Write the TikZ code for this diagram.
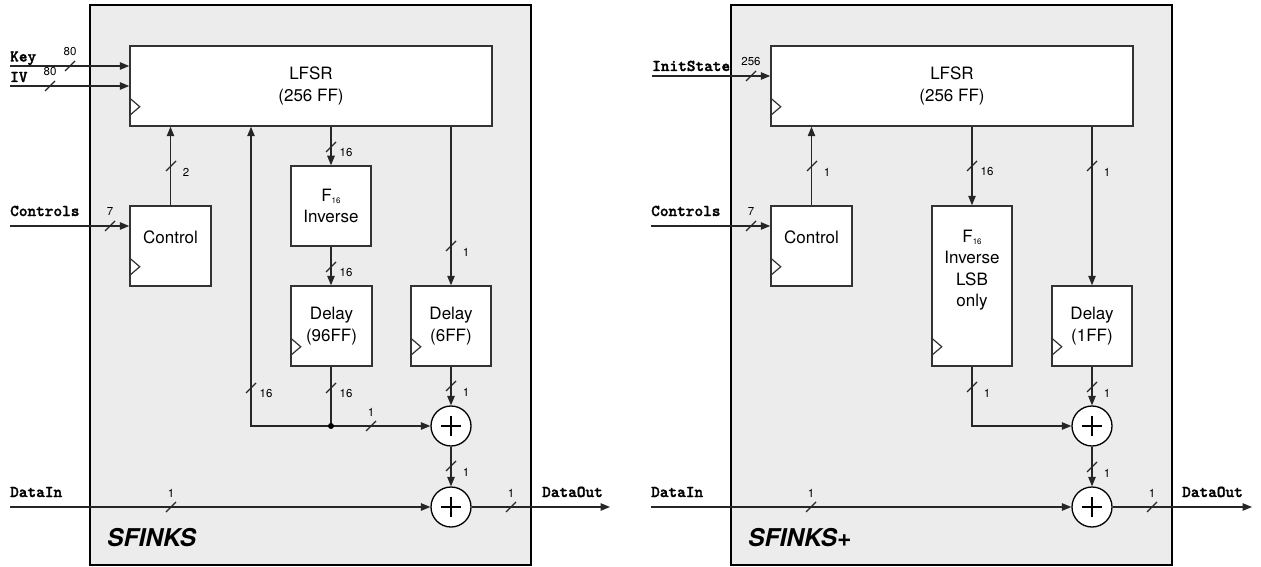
\documentclass[tikz,border=0pt]{standalone}
\usepackage{fontspec}
\setmainfont{TeX Gyre Heros}
\newfontfamily\sigfont{lmmonolt10-bold.otf}[FakeBold=1.6]
\usetikzlibrary{arrows.meta,calc}

\tikzset{
  conn/.style={line width=1.2pt, draw=black!85},
  arr/.style={conn, -{Triangle[length=9.5pt,width=7.5pt]}},
  reg/.style={draw=black!80, line width=1.5pt, fill=white, inner sep=0pt,
              font=\fontsize{17}{21.5}\selectfont, align=center},
  boxtxt/.style={font=\fontsize{17}{21.5}\selectfont, align=center, inner sep=0pt},
  sig/.style={font=\sigfont\fontsize{16.5}{16.5}\selectfont, anchor=base west, inner sep=0pt},
  num/.style={font=\fontsize{11.5}{11.5}\selectfont, inner sep=0pt},
  xor/.style={circle, draw=black, line width=1.3pt, fill=white, minimum size=40pt, inner sep=0pt,
    path picture={
      \draw[line width=1.1pt]
        ([xshift=-10pt]path picture bounding box.center) -- ([xshift=10pt]path picture bounding box.center)
        ([yshift=-10pt]path picture bounding box.center) -- ([yshift=10pt]path picture bounding box.center);}},
  panel/.style={draw=black, line width=2.2pt, fill={rgb,255:red,236;green,236;blue,236}},
  paneltitle/.style={font=\fontsize{24.5}{24.5}\selectfont\bfseries\itshape, anchor=base west, inner sep=0pt},
  clk/.pic={\draw[draw=black!80, line width=1.2pt] (0,-9) -- (10.5,0) -- (0,9);},
  busv/.pic={\draw[conn] (-5,5) -- (5,-5); \node[num] at (15,6) {#1};},
  bush/.pic={\draw[conn] (-5,5) -- (5,-5); \node[num] at (0,-14) {#1};}
}
\newcommand{\Fsixteen}{F\raisebox{-2.5pt}{\fontsize{8}{8}\selectfont 16}}

\begin{document}
\begin{tikzpicture}[x=1pt, y=-1pt]
\useasboundingbox (0,0) rectangle (1261,567);

% ---------------- SFINKS ----------------
\draw[panel] (90,5) rectangle (531,565);
\node[reg, minimum width=362pt, minimum height=80pt] (aLF) at (311,86) {LFSR\\(256 FF)};
\node[reg, minimum width=81pt, minimum height=80pt] (aCT) at (170.5,246) {};
\node[boxtxt] (aCTt) at (170.5,237) {Control};
\node[reg, minimum width=80pt, minimum height=80pt] (aF) at (331,206) {\Fsixteen\\Inverse};
\node[reg, minimum width=81pt, minimum height=80pt] (aD96) at (331.5,326) {Delay\\(96FF)};
\node[reg, minimum width=80pt, minimum height=80pt] (aD6) at (451,326) {Delay\\(6FF)};
\node[xor] (aX1) at (451,426) {};
\node[xor] (aX2) at (451,507) {};

\pic at ([yshift=20pt]aLF.south west) {clk};
\pic at ([yshift=20pt]aCT.south west) {clk};
\pic at ([yshift=20pt]aD96.south west) {clk};
\pic at ([yshift=20pt]aD6.south west) {clk};

\coordinate (aKey) at (10,66);
\coordinate (aIV) at (10,86);
\coordinate (aCin) at (10,226);
\coordinate (aDin) at (10,507);
\coordinate (aDout) at (610,507);

\draw[arr] (aKey) -- (aKey -| aLF.west);
\pic at (70,66) {bush=80};
\node[sig] at (10,61.5) {Key};
\draw[arr] (aIV) -- (aIV -| aLF.west);
\pic at (50,86) {bush=80};
\node[sig] at (10,82) {IV};

\draw[arr] (aCin) -- (aCin -| aCT.west);
\pic at (110,226) {bush=7};
\node[sig] at (10,216) {Controls};
\draw[arr] (aCT.north) -- (aCT.north |- aLF.south);
\pic at (171,166) {busv=2};

\draw[arr] (aF.north |- aLF.south) -- (aF.north);
\pic at (331,147) {busv=16};
\draw[arr] (aF.south) -- (aF.south |- aD96.north);
\pic at (331,267) {busv=16};
\draw[arr] (aD6.north |- aLF.south) -- (aD6.north);
\pic at (451,246) {busv=1};

\coordinate (aJ) at (aF.south |- aX1.west);
\coordinate (aFb) at (251,426);
\draw[conn] (aF.south |- aD96.south) -- (aJ);
\pic at (331,388) {busv=16};
\draw[arr] (aJ) -- (aFb) -- (aFb |- aLF.south);
\pic at (251,388) {busv=16};
\draw[arr] (aJ) -- (aX1.west);
\pic at (371,426) {bush=1};
\fill[black] (aJ) circle[radius=3pt];

\draw[arr] (aD6.south) -- (aX1.north);
\pic at (451,386) {busv=1};
\draw[arr] (aX1.south) -- (aX2.north);
\pic at (451,466) {busv=1};

\draw[arr] (aDin) -- (aX2.west);
\pic at (171,507) {bush=1};
\node[sig] at (10,497) {DataIn};
\draw[arr] (aX2.east) -- (aDout);
\pic at (511,507) {bush=1};
\node[sig] at (542,497) {DataOut};

\node[paneltitle] at (107,546) {SFINKS};

% ---------------- SFINKS+ ----------------
\begin{scope}[xshift=641pt]
\draw[panel] (90,5) rectangle (531,565);
\node[reg, minimum width=362pt, minimum height=80pt] (bLF) at (311,86) {LFSR\\(256 FF)};
\node[reg, minimum width=81pt, minimum height=80pt] (bCT) at (170.5,246) {};
\node[boxtxt] (bCTt) at (170.5,237) {Control};
\node[reg, minimum width=80pt, minimum height=160pt] (bF) at (331,286) {};
\node[boxtxt, anchor=north] (bFt) at (331,229.5) {\Fsixteen\\Inverse\\LSB\\only};
\node[reg, minimum width=80pt, minimum height=80pt] (bD1) at (451,326) {Delay\\(1FF)};
\node[xor] (bX1) at (451,426) {};
\node[xor] (bX2) at (451,507) {};

\pic at ([yshift=20pt]bLF.south west) {clk};
\pic at ([yshift=20pt]bCT.south west) {clk};
\pic at ([yshift=20pt]bF.south west) {clk};
\pic at ([yshift=20pt]bD1.south west) {clk};

\coordinate (bIn) at (11,76);
\coordinate (bCin) at (10,226);
\coordinate (bDin) at (10,507);
\coordinate (bDout) at (611,507);

\draw[arr] (bIn) -- (bIn -| bLF.west);
\pic at (110,76) {bush=256};
\node[sig] at (11,71) {InitState};

\draw[arr] (bCin) -- (bCin -| bCT.west);
\pic at (110,226) {bush=7};
\node[sig] at (10,216) {Controls};
\draw[arr] (bCT.north) -- (bCT.north |- bLF.south);
\pic at (171,166) {busv=1};

\draw[arr] (bF.north |- bLF.south) -- (bF.north);
\pic at (331,166) {busv=16};
\draw[arr] (bD1.north |- bLF.south) -- (bD1.north);
\pic at (451,166) {busv=1};

\coordinate (bC) at (bF.south |- bX1.west);
\draw[arr] (bF.south) -- (bC) -- (bX1.west);
\pic at (331,387) {busv=1};
\draw[arr] (bD1.south) -- (bX1.north);
\pic at (451,387) {busv=1};
\draw[arr] (bX1.south) -- (bX2.north);
\pic at (451,467) {busv=1};

\draw[arr] (bDin) -- (bX2.west);
\pic at (170,507) {bush=1};
\node[sig] at (10,497) {DataIn};
\draw[arr] (bX2.east) -- (bDout);
\pic at (511,507) {bush=1};
\node[sig] at (541,497) {DataOut};

\node[paneltitle] at (107,546) {SFINKS+};
\end{scope}
\end{tikzpicture}
\end{document}
